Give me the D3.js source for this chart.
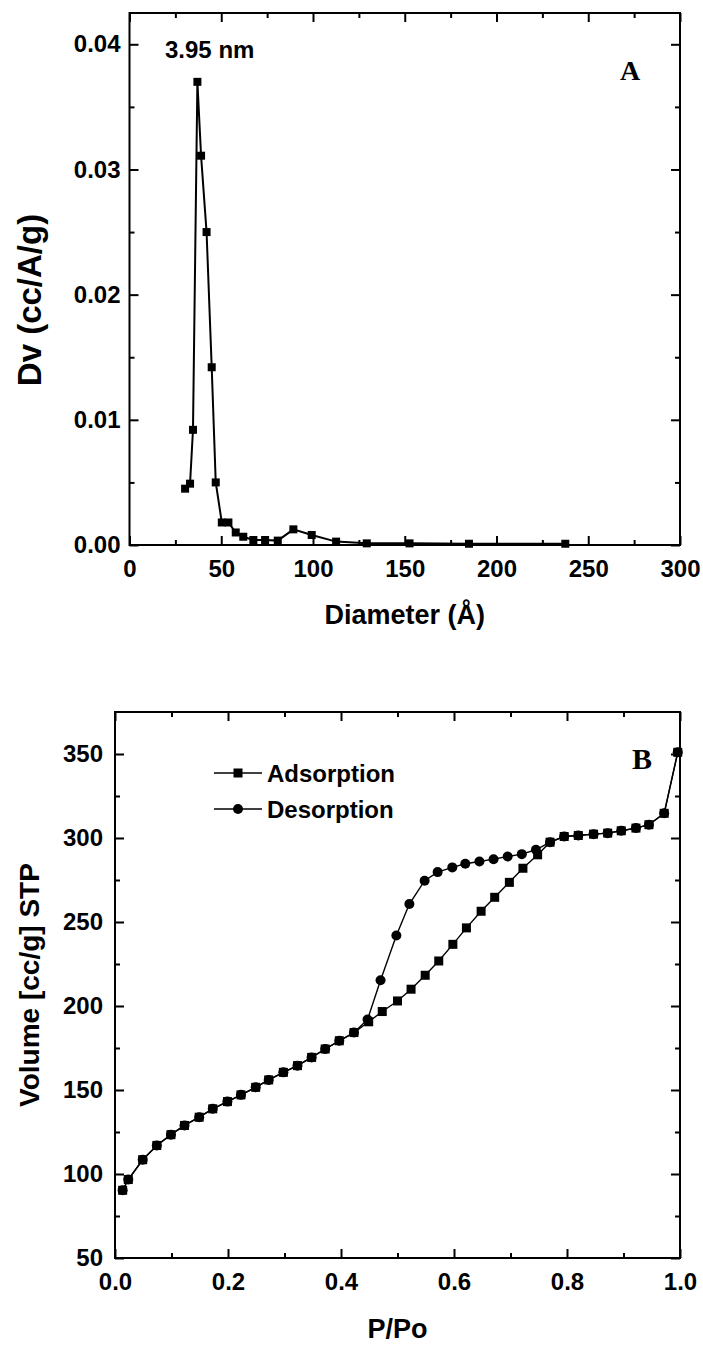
<!DOCTYPE html>
<html>
<head>
<meta charset="UTF-8">
<title>Pore size / isotherm</title>
<script src="https://cdn.jsdelivr.net/npm/d3@7"></script>
<style>
    body { margin: 0; background: #fff; }
    svg text { font-family: "Liberation Sans", Arial, sans-serif; font-weight: bold; fill: #000; }
    .tick line { stroke: #000; stroke-width: 2; }
    .domain { display: none; }
</style>
</head>
<body>
<script>
    /// data - panel A (pore size distribution)
    var diamA = [30.3, 33, 34.6, 37, 39, 42, 44.8, 47, 50.3, 53.9, 57.9, 62, 67.5, 73.9, 80.8, 89.3, 99.3, 112.6, 129.3, 152.6, 185, 237.5];
    var dvA = [0.0045, 0.0049, 0.0092, 0.0370, 0.0311, 0.0250, 0.0142, 0.0050, 0.0018, 0.0018, 0.0010, 0.00066, 0.0004, 0.0004, 0.00035, 0.00125, 0.0008, 0.00027, 0.00013, 0.00013, 0.0001, 0.0001];
    var xTicksA = [0, 50, 100, 150, 200, 250, 300];
    var yTicksA = [0, 0.01, 0.02, 0.03, 0.04];

    /// data - panel B (N2 isotherm)
    var ppoAds = [0.0135, 0.0235, 0.049, 0.074, 0.099, 0.123, 0.149, 0.173, 0.199, 0.223, 0.249, 0.272, 0.298, 0.323, 0.348, 0.372, 0.397, 0.423, 0.449, 0.473, 0.5, 0.524, 0.549, 0.573, 0.598, 0.622, 0.648, 0.672, 0.698, 0.722, 0.748, 0.77, 0.795, 0.82, 0.847, 0.872, 0.896, 0.922, 0.945, 0.972, 0.996];
    var volAds = [90.3, 96.7, 108.5, 117, 123.4, 128.9, 133.8, 138.8, 143.1, 147.1, 151.6, 156, 160.5, 164.5, 169.4, 174.4, 179.3, 184.2, 190.6, 196.7, 203, 210, 218.3, 226.8, 236.7, 246.5, 256.4, 264.7, 273.6, 282, 290, 297.5, 300.9, 301.5, 302.3, 302.9, 304.3, 305.9, 307.9, 314.7, 351];
    var ppoDes = [0.996, 0.972, 0.945, 0.922, 0.896, 0.872, 0.847, 0.82, 0.795, 0.77, 0.745, 0.72, 0.695, 0.67, 0.645, 0.62, 0.597, 0.571, 0.548, 0.521, 0.498, 0.47, 0.447, 0.423, 0.397, 0.372, 0.348, 0.323, 0.298, 0.272, 0.249, 0.223, 0.199, 0.173, 0.149, 0.123, 0.099, 0.074, 0.049, 0.0235, 0.0135];
    var volDes = [351, 314.7, 307.9, 305.9, 304.3, 302.9, 302.3, 301.5, 300.9, 297.5, 293, 290.4, 289, 287.4, 286, 284.7, 282.5, 279.7, 274.6, 260.7, 242, 215.3, 192, 184.2, 179.3, 174.4, 169.4, 164.5, 160.5, 156, 151.6, 147.1, 143.1, 138.8, 133.8, 128.9, 123.4, 117, 108.5, 96.7, 90.3];
    var xTicksB = [0, 0.2, 0.4, 0.6, 0.8, 1.0];
    var yTicksB = [50, 100, 150, 200, 250, 300, 350];
    var legendB = ["Adsorption", "Desorption"];

    var W = 703, H = 1347;
    var svg = d3.select("body").append("svg")
        .attr("width", W)
        .attr("height", H);

    // draws the inward ticks on all 4 sides (major labelled, minor not)
    function frame(g, x, y, xMaj, xMin, yMaj, yMin, xFmt, yFmt, ypad) {
        var x0 = x.range()[0], x1 = x.range()[1], y0 = y.range()[0], y1 = y.range()[1];
        g.append("g").attr("transform", "translate(0," + y0 + ")")
            .call(d3.axisBottom(x).tickValues(xMin).tickSize(-5).tickFormat(""));
        g.append("g").attr("transform", "translate(0," + y0 + ")")
            .call(d3.axisBottom(x).tickValues(xMaj).tickSize(-9).tickPadding(15).tickFormat(xFmt))
            .selectAll("text").style("font-size", "24px");
        g.append("g").attr("transform", "translate(0," + y1 + ")")
            .call(d3.axisTop(x).tickValues(xMin).tickSize(-5).tickFormat(""));
        g.append("g").attr("transform", "translate(0," + y1 + ")")
            .call(d3.axisTop(x).tickValues(xMaj).tickSize(-9).tickFormat(""));
        g.append("g").attr("transform", "translate(" + x0 + ",0)")
            .call(d3.axisLeft(y).tickValues(yMin).tickSize(-5).tickFormat(""));
        g.append("g").attr("transform", "translate(" + x0 + ",0)")
            .call(d3.axisLeft(y).tickValues(yMaj).tickSize(-9).tickPadding(ypad).tickFormat(yFmt))
            .selectAll("text").style("font-size", "24px");
        g.append("g").attr("transform", "translate(" + x1 + ",0)")
            .call(d3.axisRight(y).tickValues(yMin).tickSize(-5).tickFormat(""));
        g.append("g").attr("transform", "translate(" + x1 + ",0)")
            .call(d3.axisRight(y).tickValues(yMaj).tickSize(-9).tickFormat(""));
        g.selectAll("text").attr("font-family", null);
        g.append("rect")
            .attr("x", x0).attr("y", y1)
            .attr("width", x1 - x0).attr("height", y0 - y1)
            .attr("fill", "none").attr("stroke", "#000").attr("stroke-width", 2);
    }

    // ---------- panel A ----------
    var xA = d3.scaleLinear().domain([0, 300]).range([129.5, 680]);
    var yA = d3.scaleLinear().domain([0, 0.0425]).range([545, 13]);
    var gA = svg.append("g");

    var ptsA = diamA.map(function(d, i) { return [d, dvA[i]]; });
    gA.append("path")
        .datum(ptsA)
        .attr("fill", "none").attr("stroke", "#000").attr("stroke-width", 2)
        .attr("d", d3.line().x(function(d) { return xA(d[0]); }).y(function(d) { return yA(d[1]); }));
    gA.selectAll("rect.pt")
        .data(ptsA).enter().append("rect")
        .attr("class", "pt")
        .attr("x", function(d) { return xA(d[0]) - 4; })
        .attr("y", function(d) { return yA(d[1]) - 4; })
        .attr("width", 8).attr("height", 8)
        .attr("fill", "#000");

    frame(gA, xA, yA, xTicksA, d3.range(25, 300, 50), yTicksA, [0.005, 0.015, 0.025, 0.035],
        d3.format("d"), d3.format(".2f"), 9);

    gA.append("text").attr("x", 165).attr("y", 58).style("font-size", "24px").text("3.95 nm");
    gA.append("text").attr("x", 620).attr("y", 80)
        .style("font-family", "'Liberation Serif', 'Times New Roman', serif")
        .style("font-size", "28px").text("A");
    gA.append("text")
        .attr("x", (xA.range()[0] + xA.range()[1]) / 2).attr("y", 624)
        .attr("text-anchor", "middle").style("font-size", "27px")
        .text("Diameter (Å)");
    gA.append("text")
        .attr("transform", "translate(41,300) rotate(-90)")
        .attr("text-anchor", "middle").style("font-size", "33px")
        .text("Dv (cc/A/g)");

    // ---------- panel B ----------
    var xB = d3.scaleLinear().domain([0, 1]).range([115, 680]);
    var yB = d3.scaleLinear().domain([50, 375]).range([1258, 712]);
    var gB = svg.append("g");
    var lineB = d3.line().x(function(d) { return xB(d[0]); }).y(function(d) { return yB(d[1]); });

    var ads = ppoAds.map(function(d, i) { return [d, volAds[i]]; });
    var des = ppoDes.map(function(d, i) { return [d, volDes[i]]; });

    gB.append("path").datum(ads)
        .attr("fill", "none").attr("stroke", "#000").attr("stroke-width", 1.4).attr("d", lineB);
    gB.append("path").datum(des)
        .attr("fill", "none").attr("stroke", "#000").attr("stroke-width", 1.4).attr("d", lineB);

    gB.selectAll("rect.ads")
        .data(ads).enter().append("rect")
        .attr("class", "ads")
        .attr("x", function(d) { return xB(d[0]) - 4.5; })
        .attr("y", function(d) { return yB(d[1]) - 4.5; })
        .attr("width", 9).attr("height", 9)
        .attr("fill", "#000");
    gB.selectAll("circle.des")
        .data(des).enter().append("circle")
        .attr("class", "des")
        .attr("cx", function(d) { return xB(d[0]); })
        .attr("cy", function(d) { return yB(d[1]); })
        .attr("r", 5)
        .attr("fill", "#000");

    frame(gB, xB, yB, xTicksB, [0.1, 0.3, 0.5, 0.7, 0.9], yTicksB, [75, 125, 175, 225, 275, 325],
        d3.format(".1f"), d3.format("d"), 12);

    // legend
    var leg = gB.selectAll("g.leg").data(legendB).enter().append("g")
        .attr("class", "leg")
        .attr("transform", function(d, i) { return "translate(214," + (773 + i * 36) + ")"; });
    leg.append("line").attr("x1", 0).attr("x2", 48).attr("stroke", "#000").attr("stroke-width", 1.4);
    leg.filter(function(d, i) { return i === 0; }).append("rect")
        .attr("x", 19.5).attr("y", -4.5).attr("width", 9).attr("height", 9).attr("fill", "#000");
    leg.filter(function(d, i) { return i === 1; }).append("circle")
        .attr("cx", 24).attr("r", 5).attr("fill", "#000");
    leg.append("text").attr("x", 53).attr("y", 8.5).style("font-size", "24px").text(function(d) { return d; });

    gB.append("text").attr("x", 632).attr("y", 769)
        .style("font-family", "'Liberation Serif', 'Times New Roman', serif")
        .style("font-size", "30px").text("B");
    gB.append("text")
        .attr("x", (xB.range()[0] + xB.range()[1]) / 2).attr("y", 1338)
        .attr("text-anchor", "middle").style("font-size", "27px")
        .text("P/Po");
    gB.append("text")
        .attr("transform", "translate(39," + (yB.range()[0] + yB.range()[1]) / 2 + ") rotate(-90)")
        .attr("text-anchor", "middle").style("font-size", "28px")
        .text("Volume [cc/g] STP");
</script>
</body>
</html>
